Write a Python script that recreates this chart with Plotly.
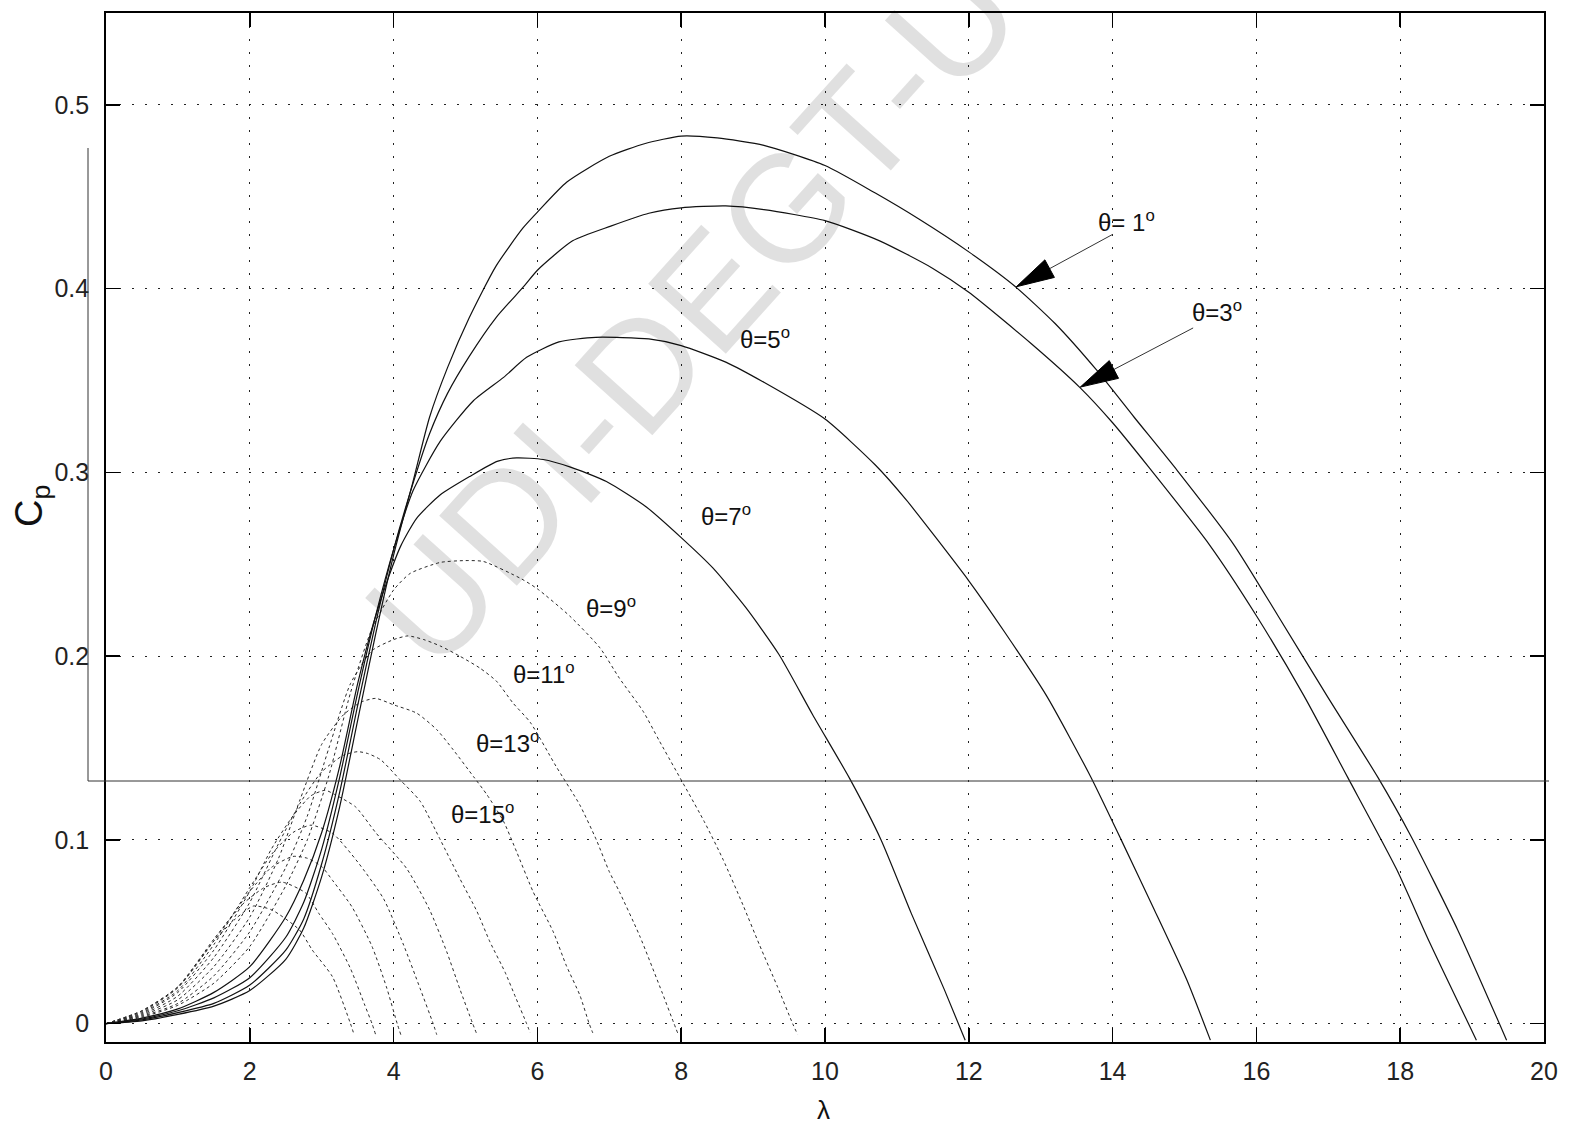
import math
import plotly.graph_objects as go

# ---------------- data ----------------
X_TICKS = [0, 2, 4, 6, 8, 10, 12, 14, 16, 18, 20]
X_TICK_LABELS = ["0", "2", "4", "6", "8", "10", "12", "14", "16", "18", "20"]
Y_TICKS = [0, 0.1, 0.2, 0.3, 0.4, 0.5]
Y_TICK_LABELS = ["0", "0.1", "0.2", "0.3", "0.4", "0.5"]

# solid curves
THETA1_L = [0, 0.5, 1, 1.5, 2, 2.5, 2.75, 3.0, 3.25, 3.5, 3.75, 4.0, 4.27, 4.5, 4.75, 5.05, 5.42, 5.8, 6.0, 6.41,
            7.0, 7.5, 8.0, 8.5, 9.15, 10.0, 10.7, 11.3, 12.0, 12.65, 13.2, 13.77, 14.3, 14.9, 15.68, 16.3, 16.98,
            17.69, 18.15, 18.8, 19.48]
THETA1_CP = [0, 0.0015, 0.005, 0.0095, 0.018, 0.035, 0.052, 0.08, 0.118, 0.165, 0.212, 0.255, 0.295, 0.33, 0.357,
             0.384, 0.412, 0.433, 0.4416, 0.458, 0.472, 0.479, 0.483, 0.482, 0.478, 0.467, 0.452, 0.438, 0.42, 0.401,
             0.381, 0.356, 0.33, 0.301, 0.261, 0.222, 0.1785, 0.134, 0.102, 0.051, -0.009]

THETA3_L = [0, 0.5, 1, 1.5, 2, 2.5, 2.75, 3.0, 3.25, 3.5, 3.75, 4.0, 4.27, 4.5, 4.75, 5.05, 5.42, 5.82, 6.0, 6.49,
            7.02, 7.55, 8.0, 8.62, 9.15, 10.0, 10.76, 11.5, 12.0, 12.87, 13.55, 14.0, 14.5, 15.34, 16.0, 16.66,
            17.27, 17.95, 18.4, 19.06]
THETA3_CP = [0, 0.002, 0.006, 0.011, 0.021, 0.04, 0.057, 0.087, 0.126, 0.173, 0.218, 0.258, 0.294, 0.321, 0.343,
             0.363, 0.384, 0.4016, 0.41, 0.426, 0.434, 0.441, 0.444, 0.445, 0.443, 0.437, 0.426, 0.411, 0.398, 0.37,
             0.346, 0.327, 0.303, 0.261, 0.222, 0.1785, 0.134, 0.084, 0.045, -0.009]

THETA5_L = [0, 0.5, 1, 1.5, 2, 2.5, 2.75, 3.0, 3.25, 3.5, 3.75, 4.0, 4.27, 4.65, 5.11, 5.53, 5.85, 6.3, 6.81, 7.55,
            8.0, 8.62, 9.15, 10.0, 10.7, 11.13, 12.0, 12.5, 13.08, 13.7, 14.12, 14.58, 15.03, 15.36]
THETA5_CP = [0, 0.0025, 0.007, 0.014, 0.025, 0.047, 0.066, 0.095, 0.134, 0.18, 0.222, 0.258, 0.29, 0.317, 0.339,
             0.3517, 0.3626, 0.371, 0.3735, 0.3726, 0.369, 0.36, 0.349, 0.329, 0.304, 0.285, 0.241, 0.213, 0.1785,
             0.134, 0.1, 0.062, 0.024, -0.009]

THETA7_L = [0, 0.5, 1, 1.5, 2, 2.5, 2.75, 3.0, 3.25, 3.5, 3.72, 3.93, 4.1, 4.32, 4.65, 5.06, 5.44, 5.71, 6.08, 6.45,
            6.96, 7.52, 8.0, 8.44, 8.9, 9.36, 9.83, 10.34, 10.78, 11.2, 11.66, 11.95]
THETA7_CP = [0, 0.003, 0.008, 0.017, 0.031, 0.058, 0.078, 0.104, 0.14, 0.185, 0.218, 0.243, 0.26, 0.275, 0.2878,
             0.2978, 0.306, 0.3079, 0.307, 0.303, 0.295, 0.281, 0.2645, 0.248, 0.2264, 0.2009, 0.168, 0.1336, 0.1,
             0.06, 0.0185, -0.009]

# dotted curves
THETA9_L = [0, 0.5, 1, 1.5, 2, 2.5, 2.8, 3.1, 3.4, 3.7, 4.0, 4.23, 4.65, 5.0, 5.25, 5.78, 6.0, 6.45, 6.87, 7.14,
            7.47, 7.7, 8.32, 8.58, 8.86, 9.09, 9.34, 9.55, 9.62]
THETA9_CP = [0, 0.0035, 0.01, 0.022, 0.042, 0.075, 0.1, 0.135, 0.18, 0.215, 0.236, 0.245, 0.251, 0.252, 0.2515,
             0.242, 0.2366, 0.2218, 0.2045, 0.188, 0.17, 0.1536, 0.11, 0.0895, 0.0645, 0.0427, 0.02, 0.0, -0.006]

THETA11_L = [0, 0.5, 1, 1.5, 2, 2.5, 2.8, 3.1, 3.4, 3.7, 4.0, 4.2, 4.42, 4.65, 4.92, 5.2, 5.43, 5.66, 5.9, 6.26,
             6.59, 6.82, 7.0, 7.14, 7.42, 7.74, 7.9, 7.95]
THETA11_CP = [0, 0.004, 0.011, 0.026, 0.05, 0.085, 0.113, 0.15, 0.185, 0.203, 0.209, 0.211, 0.209, 0.2055, 0.2,
              0.1935, 0.1864, 0.1745, 0.164, 0.14, 0.119, 0.1, 0.0827, 0.0718, 0.048, 0.0164, 0.0, -0.005]

THETA13_L = [0, 0.5, 1, 1.5, 2, 2.4, 2.7, 3.0, 3.3, 3.55, 3.75, 4.0, 4.32, 4.6, 4.83, 5.11, 5.3, 5.53, 5.71, 5.94,
             6.22, 6.4, 6.59, 6.72, 6.77]
THETA13_CP = [0, 0.0045, 0.013, 0.031, 0.058, 0.09, 0.122, 0.152, 0.168, 0.175, 0.177, 0.1735, 0.169, 0.16, 0.149,
              0.1345, 0.1245, 0.11, 0.0936, 0.0718, 0.05, 0.0318, 0.0155, 0.0, -0.005]

THETA15_L = [0, 0.5, 1, 1.5, 2, 2.4, 2.7, 3.0, 3.3, 3.5, 3.64, 3.82, 4.09, 4.37, 4.65, 4.92, 5.16, 5.34, 5.55, 5.7,
             5.85, 5.9]
THETA15_CP = [0, 0.005, 0.015, 0.036, 0.066, 0.098, 0.12, 0.137, 0.146, 0.148, 0.147, 0.1436, 0.1327, 0.121, 0.1,
              0.079, 0.061, 0.0445, 0.028, 0.014, 0.0, -0.005]

THETA17_L = [0, 0.5, 1, 1.5, 2, 2.3, 2.6, 2.85, 3.05, 3.19, 3.47, 3.75, 4.18, 4.5, 4.74, 4.92, 5.1, 5.16]
THETA17_CP = [0, 0.0055, 0.017, 0.04, 0.072, 0.095, 0.113, 0.124, 0.127, 0.1245, 0.118, 0.104, 0.0845, 0.062,
              0.039, 0.019, 0.0, -0.006]

THETA19_L = [0, 0.5, 1, 1.5, 2, 2.3, 2.6, 2.85, 3.15, 3.5, 3.86, 4.14, 4.37, 4.55, 4.6]
THETA19_CP = [0, 0.006, 0.018, 0.043, 0.074, 0.092, 0.104, 0.108, 0.1036, 0.088, 0.068, 0.0427, 0.019, 0.0, -0.006]

THETA21_L = [0, 0.5, 1, 1.5, 2, 2.3, 2.6, 2.8, 3.0, 3.15, 3.42, 3.7, 3.9, 4.05, 4.1]
THETA21_CP = [0, 0.0065, 0.0195, 0.045, 0.072, 0.085, 0.091, 0.09, 0.0855, 0.078, 0.0636, 0.042, 0.02, 0.0, -0.006]

THETA23_L = [0, 0.5, 1, 1.5, 1.9, 2.2, 2.45, 2.78, 2.96, 3.15, 3.4, 3.6, 3.7, 3.75]
THETA23_CP = [0, 0.007, 0.02, 0.046, 0.065, 0.074, 0.077, 0.071, 0.06, 0.049, 0.03, 0.01, 0.0, -0.006]

THETA25_L = [0, 0.5, 1, 1.5, 1.8, 2.05, 2.3, 2.69, 2.87, 3.15, 3.4, 3.45]
THETA25_CP = [0, 0.007, 0.02, 0.045, 0.057, 0.064, 0.062, 0.051, 0.04, 0.0255, 0.0, -0.006]

SOLID_CURVES = [(THETA1_L, THETA1_CP), (THETA3_L, THETA3_CP), (THETA5_L, THETA5_CP), (THETA7_L, THETA7_CP)]
DOTTED_CURVES = [(THETA9_L, THETA9_CP), (THETA11_L, THETA11_CP), (THETA13_L, THETA13_CP), (THETA15_L, THETA15_CP),
                 (THETA17_L, THETA17_CP), (THETA19_L, THETA19_CP), (THETA21_L, THETA21_CP),
                 (THETA23_L, THETA23_CP), (THETA25_L, THETA25_CP)]

LABEL_TEXT = ["θ= 1<sup>o</sup>", "θ=3<sup>o</sup>", "θ=5<sup>o</sup>", "θ=7<sup>o</sup>",
              "θ=9<sup>o</sup>", "θ=11<sup>o</sup>", "θ=13<sup>o</sup>", "θ=15<sup>o</sup>"]

# ---------------- figure ----------------
W, H = 1581, 1122
ML, MR, MT, MB = 106, 37, 13, 80
PW, PH = W - ML - MR, H - MT - MB
X_RANGE = [0, 20]
Y_RANGE = [-0.01, 0.55]
SX = PW / (X_RANGE[1] - X_RANGE[0])   # pixels per unit lambda
SY = PH / (Y_RANGE[1] - Y_RANGE[0])   # pixels per unit Cp


def px_to_paper(xp, yp):
    return (xp - ML) / PW, (H - MB - yp) / PH


fig = go.Figure()
for lam, cp in DOTTED_CURVES:
    fig.add_trace(go.Scatter(x=lam, y=cp, mode="lines", hoverinfo="skip", showlegend=False,
                             line=dict(color="#2a2a2a", width=1, dash="3px,3px", shape="spline",
                                       smoothing=0.6)))
for lam, cp in SOLID_CURVES:
    fig.add_trace(go.Scatter(x=lam, y=cp, mode="lines", hoverinfo="skip", showlegend=False,
                             line=dict(color="#111111", width=1.2, shape="spline", smoothing=0.6)))

tick_font = dict(family="Liberation Sans, Arial, sans-serif", size=25, color="#222222")
axis_common = dict(ticks="inside", ticklen=14, tickwidth=1.5, tickcolor="black",
                   showline=True, linecolor="black", linewidth=1.8, mirror="ticks",
                   showgrid=True, gridcolor="#222222", gridwidth=1, griddash="2px,11px",
                   zeroline=False, tickfont=tick_font, fixedrange=True)

fig.update_xaxes(range=X_RANGE, tickmode="array", tickvals=X_TICKS, ticktext=X_TICK_LABELS,
                 ticklabelstandoff=6, **axis_common)
fig.update_yaxes(range=Y_RANGE, tickmode="array", tickvals=Y_TICKS, ticktext=Y_TICK_LABELS,
                 ticklabelstandoff=10, **axis_common)

label_font = dict(family="Liberation Sans, Arial, sans-serif", size=24, color="#111111")
label_pos = [(14.2, 0.437), (15.45, 0.388), (9.17, 0.373), (8.62, 0.2766),
             (7.02, 0.2266), (6.09, 0.1908), (5.59, 0.153), (5.23, 0.1147)]
annotations = []
for (lx, ly), txt in zip(label_pos, LABEL_TEXT):
    annotations.append(dict(x=lx, y=ly, xref="x", yref="y", text=txt, showarrow=False,
                            font=label_font, xanchor="center", yanchor="middle"))

# arrows for θ=1 and θ=3 (shaft + narrow filled head, computed from tail/tip)
shapes = []
ARROWS = [((14.0, 0.4295), (12.66, 0.401)), ((15.12, 0.3786), (13.55, 0.3464))]
HEAD_LEN, HEAD_HALF = 38, 10
for (tx, ty), (hx, hy) in ARROWS:
    dxp, dyp = (tx - hx) * SX, (ty - hy) * SY
    n = math.hypot(dxp, dyp)
    ux, uy = dxp / n, dyp / n
    bx, by = HEAD_LEN * ux, HEAD_LEN * uy
    c1 = (hx + (bx - HEAD_HALF * uy) / SX, hy + (by + HEAD_HALF * ux) / SY)
    c2 = (hx + (bx + HEAD_HALF * uy) / SX, hy + (by - HEAD_HALF * ux) / SY)
    base = (hx + 0.8 * bx / SX, hy + 0.8 * by / SY)
    shapes.append(dict(type="line", xref="x", yref="y", x0=tx, y0=ty, x1=base[0], y1=base[1],
                       line=dict(color="#333333", width=1)))
    shapes.append(dict(type="path", xref="x", yref="y",
                       path=f"M {hx},{hy} L {c1[0]},{c1[1]} L {c2[0]},{c2[1]} Z",
                       fillcolor="black", line=dict(color="black", width=1)))

# axis titles
cx, cy = px_to_paper(32, 506)
annotations.append(dict(x=cx, y=cy, xref="paper", yref="paper", text="C<sub>p</sub>", textangle=-90,
                        showarrow=False, xanchor="center", yanchor="middle",
                        font=dict(family="Liberation Sans, Arial, sans-serif", size=38, color="#111111")))
_, ly_ = px_to_paper(0, 1093)
annotations.append(dict(x=9.98, y=ly_, xref="x", yref="paper", text="λ", showarrow=False, yanchor="top",
                        font=dict(family="Liberation Sans, Arial, sans-serif", size=26, color="#111111")))

# watermark
wx, wy = px_to_paper(692, 312)
annotations.append(dict(x=wx, y=wy, xref="paper", yref="paper", text="UDI-DEGT-U", textangle=-48,
                        showarrow=False, xanchor="center", yanchor="middle",
                        font=dict(family="Liberation Sans, Arial, sans-serif", size=152,
                                  color="rgba(0,0,0,0.12)")))

# scan frame lines (thin rectangle edges visible in the reference)
hx0, hy0 = px_to_paper(88, 781)
hx1, _ = px_to_paper(1549, 781)
_, vy1 = px_to_paper(89, 148)
shapes += [
    dict(type="line", xref="paper", yref="paper", x0=hx0, x1=hx1, y0=hy0, y1=hy0,
         line=dict(color="#333333", width=1)),
    dict(type="line", xref="paper", yref="paper", x0=hx0, x1=hx0, y0=hy0, y1=vy1,
         line=dict(color="#333333", width=1)),
]

fig.update_layout(width=W, height=H, autosize=False,
                  margin=dict(l=ML, r=MR, t=MT, b=MB, pad=0),
                  paper_bgcolor="white", plot_bgcolor="white",
                  showlegend=False, annotations=annotations, shapes=shapes)

fig.write_html("out.html", config={"displayModeBar": False, "staticPlot": True},
               post_script="document.body.style.margin='0';document.body.style.overflow='hidden';")
